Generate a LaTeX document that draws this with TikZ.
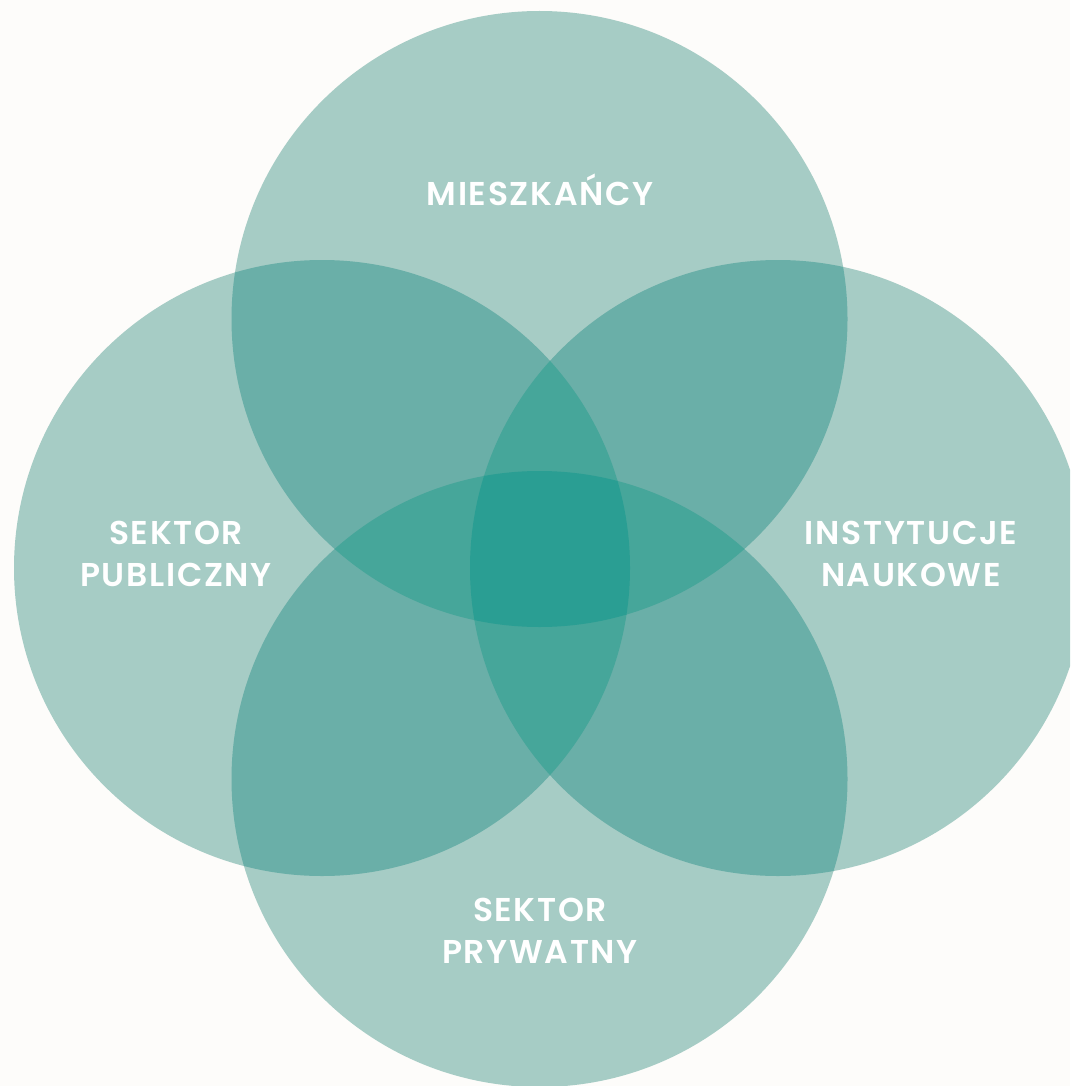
\documentclass[tikz,border=0pt]{standalone}
\usepackage{fontspec}
\setmainfont{Poppins}[BoldFont={Poppins SemiBold}]
\usetikzlibrary{positioning}
\definecolor{bgcol}{HTML}{FDFCFA}
\definecolor{oneset}{HTML}{A6CCC5}
\definecolor{twoset}{HTML}{6AAFA8}
\definecolor{threeset}{HTML}{46A69A}
\definecolor{fourset}{HTML}{2A9E93}
\tikzset{
	setlabel/.style={text=white, align=center, inner sep=0pt,
		font=\bfseries\fontsize{33}{42}\selectfont\addfontfeature{LetterSpace=5}},
}

\begin{document}
\begin{tikzpicture}[x=1pt, y=-1pt]
	\fill[bgcol] (0, 0) rectangle (1070, 1086);
	\useasboundingbox (0, 0) rectangle (1070, 1086);
	\clip (0, 0) rectangle (1070, 1086);
	\def\rad{308}
	% centres of the four sets
	\coordinate (top) at (539.5, 319);
	\coordinate (lft) at (322, 568);
	\coordinate (rgt) at (778, 568);
	\coordinate (bot) at (539.5, 779);
	% one set
	\foreach \a in {top, lft, rgt, bot}
		\fill[oneset] (\a) circle (\rad);
	% two sets
	\foreach \a/\b in {top/lft, top/rgt, top/bot, lft/rgt, lft/bot, rgt/bot} {
		\begin{scope}
			\clip (\a) circle (\rad);
			\fill[twoset] (\b) circle (\rad);
		\end{scope}
	}
	% three sets
	\foreach \a/\b/\c in {top/lft/rgt, top/lft/bot, top/rgt/bot, lft/rgt/bot} {
		\begin{scope}
			\clip (\a) circle (\rad);
			\clip (\b) circle (\rad);
			\fill[threeset] (\c) circle (\rad);
		\end{scope}
	}
	% all four
	\begin{scope}
		\clip (top) circle (\rad);
		\clip (lft) circle (\rad);
		\clip (rgt) circle (\rad);
		\fill[fourset] (bot) circle (\rad);
	\end{scope}
	\node[setlabel] (mieszkancy) at (540, 190) {MIESZKAŃCY};
	\node[setlabel] (publiczny) at (176, 554) {SEKTOR\\PUBLICZNY};
	\node[setlabel] (naukowe) at (911, 554) {INSTYTUCJE\\NAUKOWE};
	\node[setlabel] (prywatny) at (540, 931) {SEKTOR\\PRYWATNY};
\end{tikzpicture}
\end{document}
